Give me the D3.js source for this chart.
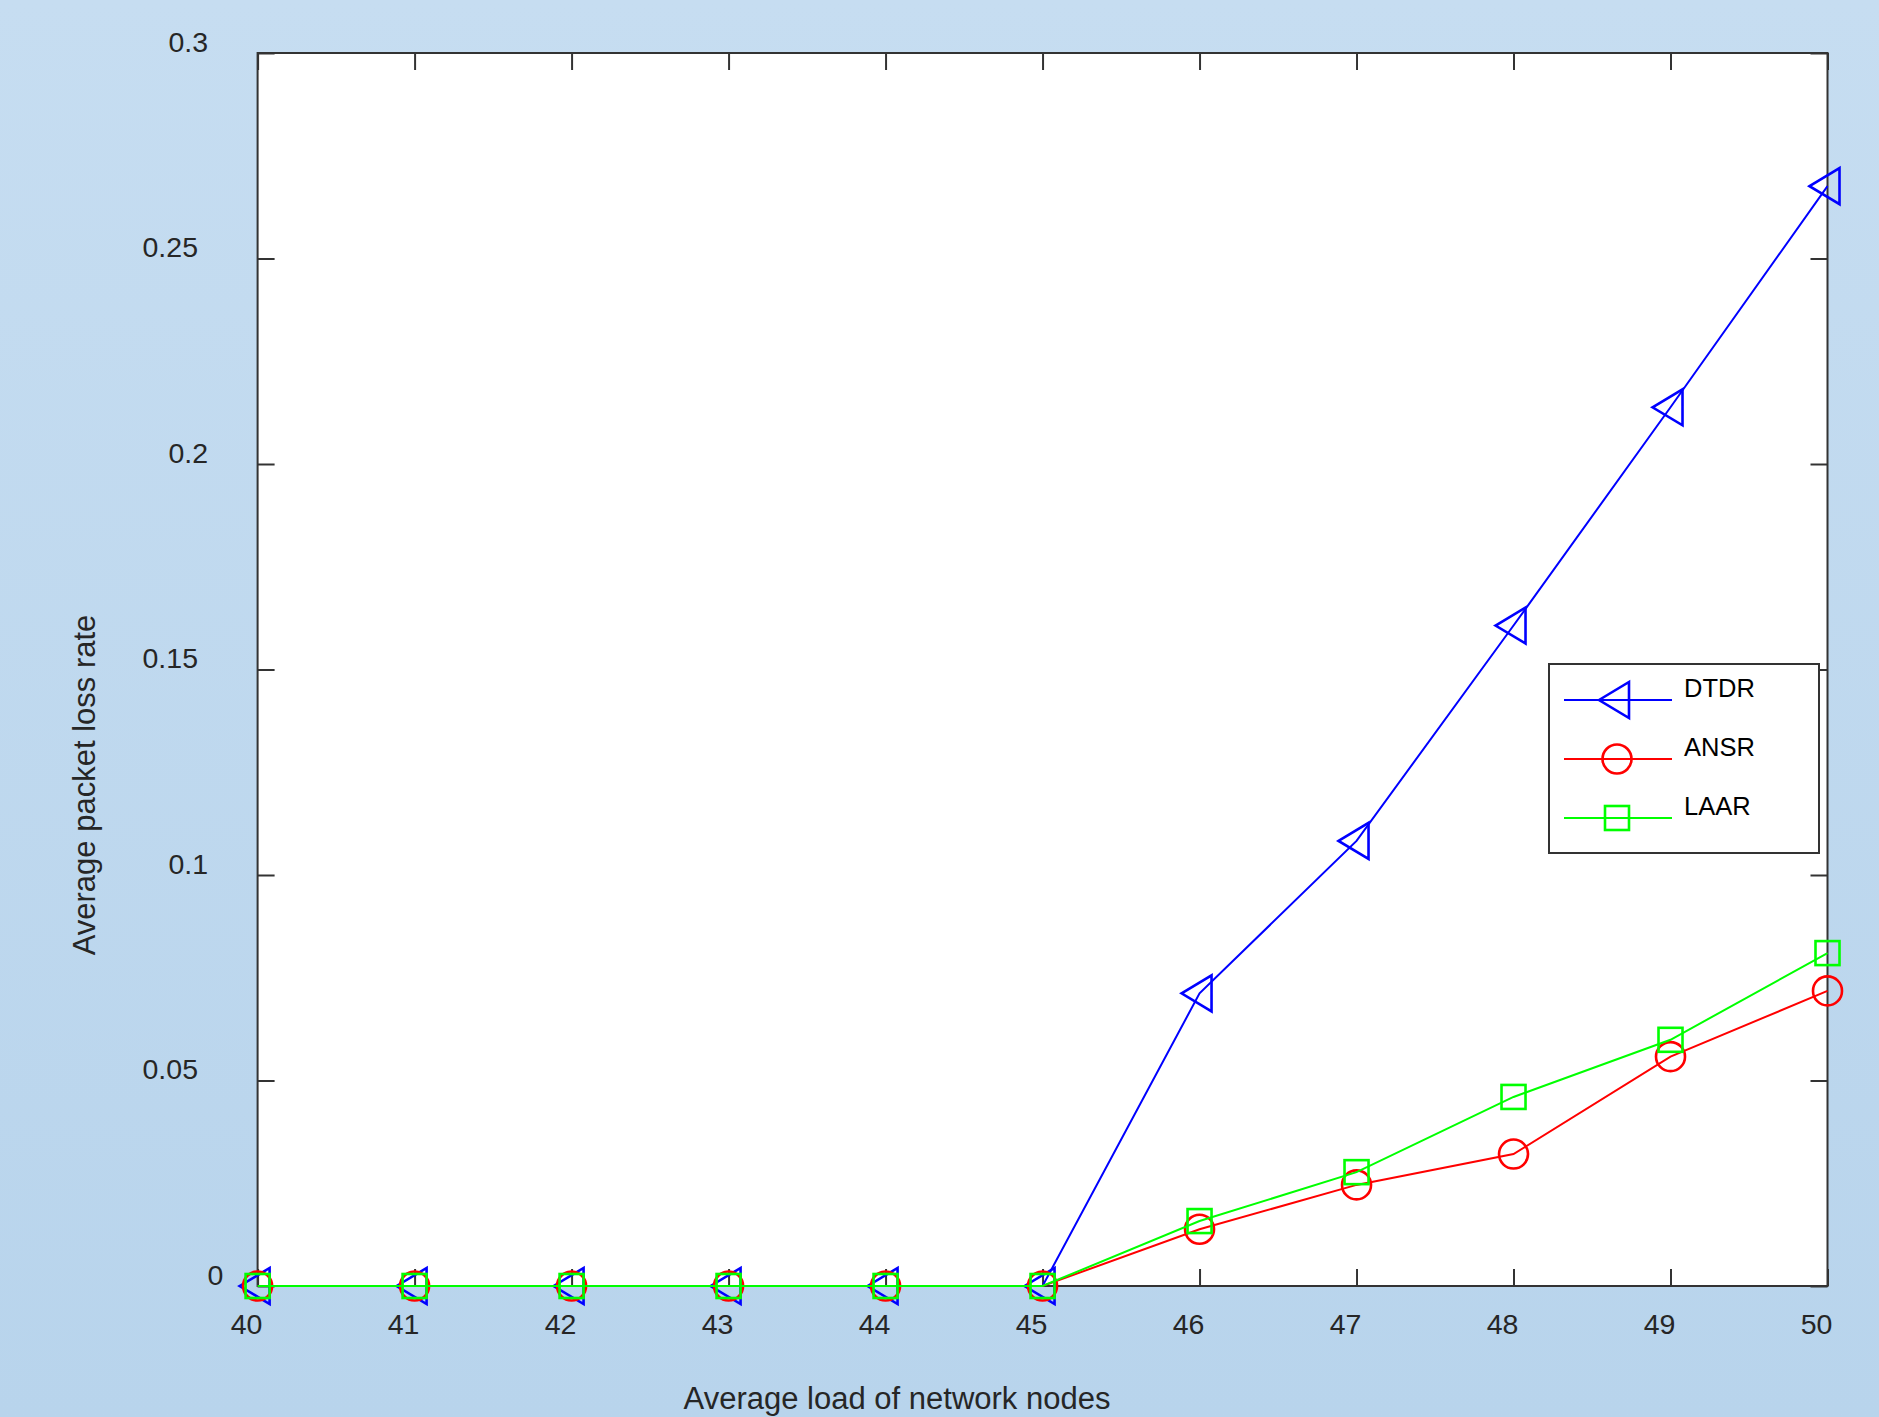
<!DOCTYPE html>
<html>
<head>
<meta charset="utf-8">
<script src="https://cdn.jsdelivr.net/npm/d3@7"></script>
<style>
  html, body { margin: 0; padding: 0; background: #c0d8ee; }
  svg { display: block; font-family: "Liberation Sans", Arial, sans-serif; }
</style>
</head>
<body>
<svg id="chart" width="1879" height="1417"></svg>
<script>
// ---- data ----
const loads = [40, 41, 42, 43, 44, 45, 46, 47, 48, 49, 50];
const dtdr = [0, 0, 0, 0, 0, 0, 0.0712, 0.1083, 0.1607, 0.2138, 0.2676];
const ansr = [0, 0, 0, 0, 0, 0, 0.0138, 0.0246, 0.0321, 0.0558, 0.0718];
const laar = [0, 0, 0, 0, 0, 0, 0.0158, 0.0277, 0.0460, 0.0599, 0.0810];
const seriesNames = ["DTDR", "ANSR", "LAAR"];
const yTickValues = [0, 0.05, 0.1, 0.15, 0.2, 0.25, 0.3];
const yTickLabels = ["0", "0.05", "0.1", "0.15", "0.2", "0.25", "0.3"];
const xTitle = "Average load of network nodes";
const yTitle = "Average packet loss rate";

// ---- styling ----
const W = 1879, H = 1417;
const plot = { left: 257.6, right: 1827.5, top: 53, bottom: 1286 };
const colors = ["#0000ff", "#ff0000", "#00ff00"];
const shapes = ["triangle", "circle", "square"];
const axisColor = "#333333";
const tickLen = 17;

const svg = d3.select("#chart");

// background gradient
const defs = svg.append("defs");
const grad = defs.append("linearGradient").attr("id", "bg").attr("x1", 0).attr("y1", 0).attr("x2", 0).attr("y2", 1);
grad.append("stop").attr("offset", "0%").attr("stop-color", "#c6ddf1");
grad.append("stop").attr("offset", "100%").attr("stop-color", "#b8d4ec");
svg.append("rect").attr("width", W).attr("height", H).attr("fill", "url(#bg)");

// plot area
svg.append("rect")
  .attr("x", plot.left).attr("y", plot.top)
  .attr("width", plot.right - plot.left).attr("height", plot.bottom - plot.top)
  .attr("fill", "#ffffff");

const x = d3.scaleLinear().domain([40, 50]).range([plot.left, plot.right]);
const y = d3.scaleLinear().domain([0, 0.3]).range([plot.bottom, plot.top]);

function styleAxis(g) {
  g.select(".domain").remove();
  g.selectAll(".tick line").attr("stroke", axisColor).attr("stroke-width", 2);
  g.selectAll(".tick text").attr("fill", "#262626").attr("font-size", 28.5)
    .attr("font-family", "Liberation Sans, Arial, sans-serif");
}

// bottom axis
const gx = svg.append("g").attr("transform", `translate(0,${plot.bottom})`)
  .call(d3.axisBottom(x).tickValues(loads).tickSize(-tickLen).tickSizeOuter(0).tickFormat(d3.format("d")));
styleAxis(gx);
gx.selectAll(".tick text").attr("y", 48).attr("dy", 0).attr("x", -11.5);

// top axis
const gxt = svg.append("g").attr("transform", `translate(0,${plot.top})`)
  .call(d3.axisTop(x).tickValues(loads).tickSize(-tickLen).tickSizeOuter(0).tickFormat(""));
styleAxis(gxt);

// left axis
const gy = svg.append("g").attr("transform", `translate(${plot.left},0)`)
  .call(d3.axisLeft(y).tickValues(yTickValues).tickSize(-tickLen).tickSizeOuter(0)
    .tickFormat((d, i) => yTickLabels[i]));
styleAxis(gy);
gy.selectAll(".tick text").each(function () {
  const t = d3.select(this);
  t.attr("text-anchor", "start").attr("dy", 0).attr("y", -2);
  const w = this.getComputedTextLength();
  t.attr("x", 233.5 - 1.64 * w - plot.left);
});

// right axis
const gyr = svg.append("g").attr("transform", `translate(${plot.right},0)`)
  .call(d3.axisRight(y).tickValues(yTickValues).tickSize(-tickLen).tickSizeOuter(0).tickFormat(""));
styleAxis(gyr);

// frame
svg.append("rect")
  .attr("x", plot.left).attr("y", plot.top)
  .attr("width", plot.right - plot.left).attr("height", plot.bottom - plot.top)
  .attr("fill", "none").attr("stroke", axisColor).attr("stroke-width", 2);

// marker drawing
function drawMarker(g, shape, cx, cy, color) {
  if (shape === "triangle") {
    g.append("path")
      .attr("d", `M${cx - 18},${cy} L${cx + 12},${cy - 18} L${cx + 12},${cy + 18} Z`)
      .attr("fill", "none").attr("stroke", color).attr("stroke-width", 2.6);
  } else if (shape === "circle") {
    g.append("circle").attr("cx", cx).attr("cy", cy).attr("r", 14.5)
      .attr("fill", "none").attr("stroke", color).attr("stroke-width", 2.6);
  } else {
    g.append("rect").attr("x", cx - 12).attr("y", cy - 12).attr("width", 24).attr("height", 24)
      .attr("fill", "none").attr("stroke", color).attr("stroke-width", 2.6);
  }
}

const seriesData = [dtdr, ansr, laar];
const line = d3.line().x((d, i) => x(loads[i])).y(d => y(d));

seriesData.forEach((vals, s) => {
  const g = svg.append("g");
  g.append("path").datum(vals).attr("d", line)
    .attr("fill", "none").attr("stroke", colors[s]).attr("stroke-width", 2);
  vals.forEach((v, i) => drawMarker(g, shapes[s], x(loads[i]), y(v), colors[s]));
});

// axis titles
svg.append("text")
  .attr("x", 897).attr("y", 1409)
  .attr("text-anchor", "middle").attr("font-size", 31).attr("fill", "#262626")
  .text(xTitle);
svg.append("text")
  .attr("transform", `translate(95,785) rotate(-90)`)
  .attr("text-anchor", "middle").attr("font-size", 31).attr("fill", "#262626")
  .text(yTitle);

// legend
const leg = { x: 1549, y: 664, w: 270, h: 189 };
const lg = svg.append("g");
lg.append("rect").attr("x", leg.x).attr("y", leg.y).attr("width", leg.w).attr("height", leg.h)
  .attr("fill", "#ffffff").attr("stroke", axisColor).attr("stroke-width", 2);
const legY = d3.scalePoint().domain(seriesNames).range([700, 818]);
seriesNames.forEach((name, s) => {
  const ly = legY(name);
  lg.append("line").attr("x1", 1564).attr("x2", 1672).attr("y1", ly).attr("y2", ly)
    .attr("stroke", colors[s]).attr("stroke-width", 2);
  drawMarker(lg, shapes[s], 1617, ly, colors[s]);
  lg.append("text").attr("x", 1684).attr("y", ly - 3)
    .attr("font-size", 25.5).attr("fill", "#000000").text(name);
});
</script>
</body>
</html>
